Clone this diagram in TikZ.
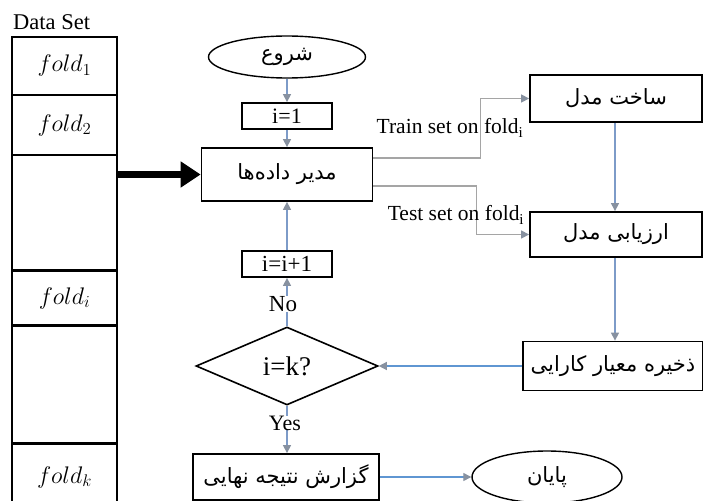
\RequirePackage{fix-cm}
\documentclass[tikz,border=0pt]{standalone}
\usepackage{fontspec}
\setmainfont{Liberation Serif}
\newfontfamily\fa[Script=Arabic]{DejaVu Sans}
\TeXXeTstate=1
\usetikzlibrary{shapes.geometric,arrows.meta}
\definecolor{flowblue}{RGB}{125,155,200}
\definecolor{linkblue}{RGB}{95,150,210}
\definecolor{linegray}{RGB}{165,165,165}
\definecolor{tipgray}{RGB}{135,145,160}
\newcommand\fatext[1]{\raisebox{-2.5pt}{\fa\fontsize{21}{24}\selectfont\beginR #1\endR}}
\begin{document}
\begin{tikzpicture}[x=1pt,y=-1pt,
  box/.style={draw=black,line width=1.8pt,rectangle,inner sep=0pt,align=center},
  cell/.style={draw=black,line width=2.6pt,rectangle,inner sep=0pt,minimum width=105pt,font=\fontsize{24}{28}\selectfont},
  oval/.style={draw=black,line width=1.4pt,ellipse,inner sep=0pt},
  flow/.style={draw=flowblue,line width=1.3pt,-{Triangle[length=8pt,width=8pt,color=tipgray]}},
  bflow/.style={draw=linkblue,line width=1.3pt,-{Triangle[length=8pt,width=8pt,color=tipgray]}},
  gflow/.style={draw=linegray,line width=1.3pt,-{Triangle[length=8pt,width=8pt,color=tipgray]}},
  lbl/.style={inner sep=0pt,font=\fontsize{21.5}{24}\selectfont}
]
\useasboundingbox (0,0) rectangle (703,500);
\clip (0,0) rectangle (703,500);
\fill[white] (0,0) rectangle (703,500);

% data set column
\node[inner sep=0pt,anchor=west,font=\fontsize{22.5}{26}\selectfont] (ds) at (13,22) {Data Set};
\node[cell,minimum height=58pt] (f1) at (64.5,66) {$fold_1$};
\node[cell,minimum height=60pt] (f2) at (64.5,125) {$fold_2$};
\node[cell,minimum height=115pt] (c3) at (64.5,212.5) {};
\node[cell,minimum height=55pt] (fi) at (64.5,298) {$fold_i$};
\node[cell,minimum height=118pt] (c5) at (64.5,384.5) {};
\node[cell,minimum height=68pt] (fk) at (64.5,477) {$fold_k$};

% main column
\node[oval,minimum width=157pt,minimum height=42pt] (start) at (287,57) {\fatext{شروع}};
\node[box,minimum width=90pt,minimum height=26pt,font=\fontsize{22}{24}\selectfont] (i1) at (287,116) {i=1};
\node[box,minimum width=171pt,minimum height=53pt] (mgr) at (287,174.5) {\fatext{مدیر داده‌ها}};
\node[box,minimum width=90pt,minimum height=26pt,font=\fontsize{23}{24}\selectfont] (inc) at (287,264) {i=i+1};
\node[draw=black,line width=1.6pt,diamond,inner sep=0pt,minimum width=182pt,minimum height=78pt,font=\fontsize{27}{30}\selectfont] (dec) at (287,366) {i=k?};
\node[box,minimum width=186pt,minimum height=46pt] (rep) at (286,477) {\fatext{گزارش نتیجه نهایی}};

% right column
\node[box,minimum width=172pt,minimum height=47pt] (build) at (616,98.5) {\fatext{ساخت مدل}};
\node[box,minimum width=172pt,minimum height=45pt] (eval) at (616,234.5) {\fatext{ارزیابی مدل}};
\node[box,minimum width=180pt,minimum height=49pt] (store) at (613,366) {\fatext{ذخیره معیار کارایی}};
\node[oval,minimum width=150pt,minimum height=52pt] (end) at (547,477) {\fatext{پایان}};

% big arrow
\draw[line width=6.5pt,-{Triangle[length=20pt,width=25pt]}] (c3.east |- mgr.west) -- (mgr.west);

% connectors
\draw[flow] (start.south) -- (i1.north);
\draw[flow] (i1.south) -- (mgr.north);
\draw[gflow] ([yshift=16.5pt]mgr.east) -- ++(107,0) |- (build.west);
\draw[gflow] ([yshift=-11.5pt]mgr.east) -- ++(103,0) |- (eval.west);
\node[lbl] (trl) at (450,128) {Train set on fold\textsubscript{i}};
\node[lbl] (tel) at (456,215) {Test set on fold\textsubscript{i}};
\draw[flow] (build.south -| 615,0) -- (eval.north -| 615,0);
\draw[flow] (eval.south -| 615,0) -- (store.north -| 615,0);
\draw[bflow] (store.west) -- (dec.east);
\draw[flow] (dec.north) -- (inc.south);
\draw[flow] (inc.north) -- (mgr.south);
\draw[flow] (dec.south) -- (rep.north -| dec.south);
\draw[bflow] (rep.east) -- (end.west);
\node[inner sep=0pt,fill=white,font=\fontsize{23}{26}\selectfont] (no) at (283,304) {No};
\node[inner sep=0pt,fill=white,font=\fontsize{22}{26}\selectfont] (yes) at (285,423) {Yes};
\end{tikzpicture}
\end{document}
